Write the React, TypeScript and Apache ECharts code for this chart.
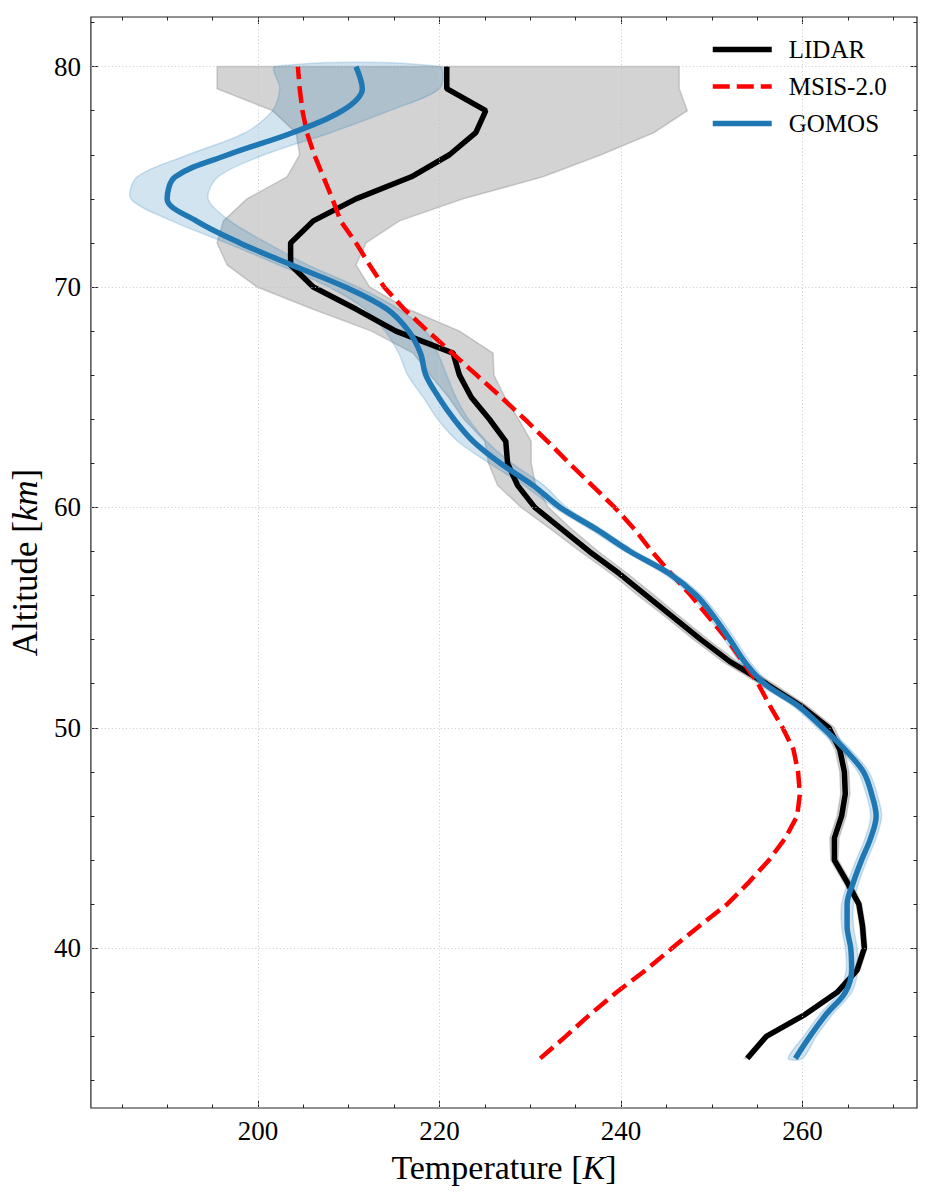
import React, { useEffect, useRef } from "react";
import * as echarts from "echarts";

// Altitude grid of the profiles (km)
const altitudes = [
  35, 36, 37, 38, 39, 40, 41, 42, 43, 44, 45, 46, 47, 48, 49, 50, 51, 52, 53, 54, 55, 56, 57,
  58, 59, 60, 61, 62, 63, 64, 65, 66, 67, 68, 69, 70, 71, 72, 73, 74, 75, 76, 77, 78, 79, 80,
];

// LIDAR temperature profile (K) and its uncertainty envelope
const lidarTemp = [
  253.9, 256.0, 260.3, 263.8, 266.0, 266.8, 266.6, 266.2, 264.9, 263.5, 263.5, 264.3, 264.7,
  264.6, 264.1, 262.9, 259.8, 256.0, 252.0, 248.8, 245.8, 242.8, 239.8, 236.5, 233.5, 230.5,
  228.6, 227.5, 227.3, 225.5, 223.5, 222.2, 221.5, 215.2, 210.8, 206.1, 203.6, 203.6, 206.1,
  210.8, 216.9, 221.1, 224.0, 225.1, 220.8, 220.8,
];
const lidarLow = [
  253.6, 255.7, 260.0, 263.5, 265.7, 266.5, 266.3, 265.9, 264.5, 263.1, 263.0, 263.8, 264.2,
  264.1, 263.6, 262.3, 259.1, 255.2, 251.2, 248.0, 245.0, 241.9, 238.9, 235.5, 232.3, 229.0,
  226.4, 225.4, 225.0, 222.7, 221.0, 219.0, 217.1, 212.5, 206.0, 199.9, 196.6, 195.5, 196.2,
  198.8, 203.2, 204.6, 204.2, 201.6, 195.5, 195.5,
];
const lidarHigh = [
  254.2, 256.3, 260.6, 264.1, 266.3, 267.1, 266.9, 266.5, 265.3, 263.9, 264.0, 264.8, 265.2,
  265.1, 264.6, 263.5, 260.5, 256.8, 252.8, 249.6, 246.6, 243.7, 240.7, 237.5, 234.6, 232.0,
  230.6, 230.1, 230.1, 228.7, 227.2, 226.0, 225.9, 222.2, 216.5, 212.3, 210.8, 211.9, 215.6,
  222.6, 231.4, 237.8, 243.6, 247.3, 246.4, 246.4,
];

// MSIS-2.0 model temperature (K)
const msisTemp = [
  231.1, 233.9, 236.6, 239.5, 242.7, 245.6, 248.6, 251.7, 254.1, 256.3, 258.1, 259.4, 259.7,
  259.5, 259.0, 257.8, 256.4, 255.1, 253.4, 251.7, 249.7, 247.7, 245.5, 243.4, 241.5, 239.3,
  236.8, 234.3, 231.9, 229.4, 226.8, 224.1, 221.4, 218.7, 216.1, 213.9, 212.3, 210.8, 209.1,
  208.2, 207.2, 206.2, 205.4, 204.9, 204.6, 204.4,
];

// GOMOS temperature profile (K) and its uncertainty envelope
const gomosTemp = [
  259.2, 260.8, 262.6, 264.7, 265.4, 265.3, 264.9, 264.9, 265.6, 266.5, 267.5, 268.1, 267.6,
  266.7, 264.7, 262.2, 259.5, 255.8, 253.6, 252.0, 250.3, 248.3, 245.3, 241.0, 237.3, 233.3,
  230.3, 226.7, 223.7, 221.6, 219.9, 218.5, 217.9, 216.6, 214.2, 209.6, 203.7, 198.0, 193.2,
  190.0, 190.9, 196.7, 203.8, 209.3, 211.5, 210.8,
];
const gomosLow = [
  258.4, 260.1, 261.9, 264.0, 264.8, 264.7, 264.3, 264.3, 265.0, 265.9, 266.9, 267.5, 267.0,
  266.1, 264.1, 261.6, 258.9, 255.2, 253.0, 251.4, 249.7, 247.7, 244.7, 240.4, 236.6, 232.6,
  229.3, 225.5, 222.0, 219.8, 218.2, 216.5, 215.5, 214.0, 211.8, 207.8, 202.3, 196.5, 190.5,
  186.0, 186.7, 192.3, 198.6, 201.6, 202.4, 201.9,
];
const gomosHigh = [
  260.0, 261.5, 263.3, 265.4, 266.1, 266.0, 265.6, 265.6, 266.2, 267.1, 268.1, 268.7, 268.2,
  267.3, 265.3, 262.8, 260.1, 256.4, 254.2, 252.6, 250.9, 248.9, 245.9, 241.6, 237.9, 234.0,
  231.5, 228.0, 225.2, 223.2, 221.8, 220.8, 219.8, 218.5, 215.5, 211.0, 205.5, 201.0, 196.9,
  194.5, 195.6, 200.7, 208.0, 214.5, 220.0, 220.0,
];

// Tick positions
const xMajorTicks = [200, 220, 240, 260];
const xMinorTicks = [185, 190, 195, 205, 210, 215, 225, 230, 235, 245, 250, 255, 265, 270];
const yMajorTicks = [40, 50, 60, 70, 80];
const yMinorTicks = [34, 36, 38, 42, 44, 46, 48, 52, 54, 56, 58, 62, 64, 66, 68, 72, 74, 76, 78, 82];

const X_MIN = 181.6;
const X_MAX = 272.6;
const Y_MIN = 32.75;
const Y_MAX = 82.25;

const FONT = "'Liberation Serif', 'DejaVu Serif', serif";
const TICK_COLOR = "#222";

const LIDAR_COLOR = "#000000";
const MSIS_COLOR = "#ff0000";
const GOMOS_COLOR = "#1f77b4";
const MSIS_DASH = [17, 7];

function pairs(temps: number[]) {
  return temps.map((t, i) => [t, altitudes[i]]);
}

function xAxisDef(position: string, values: number[], length: number, labels: boolean, extra: any = {}) {
  return {
    type: "value",
    position,
    min: X_MIN,
    max: X_MAX,
    axisLine: { show: false },
    splitLine: { show: false },
    axisTick: {
      show: true,
      inside: true,
      length,
      customValues: values,
      lineStyle: { color: TICK_COLOR, width: 1 },
    },
    axisLabel: labels
      ? {
          show: true,
          customValues: values,
          margin: 9,
          fontFamily: FONT,
          fontSize: 27,
          color: "#000",
          formatter: (v: number) => String(v),
        }
      : { show: false },
    ...extra,
  };
}

function yAxisDef(position: string, values: number[], length: number, labels: boolean, extra: any = {}) {
  return {
    type: "value",
    position,
    min: Y_MIN,
    max: Y_MAX,
    axisLine: { show: false },
    splitLine: { show: false },
    axisTick: {
      show: true,
      inside: true,
      length,
      customValues: values,
      lineStyle: { color: TICK_COLOR, width: 1 },
    },
    axisLabel: labels
      ? {
          show: true,
          customValues: values,
          margin: 10,
          fontFamily: FONT,
          fontSize: 27,
          color: "#000",
          formatter: (v: number) => String(v),
        }
      : { show: false },
    ...extra,
  };
}

function bandSeries(name: string, low: number[], high: number[], fill: string, stroke: string, smooth: number) {
  return {
    name,
    type: "custom",
    xAxisIndex: 0,
    yAxisIndex: 0,
    z: 1,
    silent: true,
    data: altitudes.map((a, i) => [low[i], high[i], a]),
    encode: { x: [0, 1], y: 2 },
    renderItem: (params: any, api: any) => {
      if (params.dataIndex !== 0) return null;
      const pts: number[][] = [];
      for (let i = 0; i < altitudes.length; i++) pts.push(api.coord([low[i], altitudes[i]]));
      for (let i = altitudes.length - 1; i >= 0; i--) pts.push(api.coord([high[i], altitudes[i]]));
      return {
        type: "polygon",
        shape: { points: pts, smooth },
        style: { fill, stroke, lineWidth: 1.5 },
      };
    },
  };
}

export default function App() {
  const ref = useRef<HTMLDivElement>(null);

  useEffect(() => {
    if (!ref.current) return;
    const chart = echarts.init(ref.current, null, { renderer: "svg" });

    const option: any = {
      animation: false,
      backgroundColor: "#fff",
      grid: {
        left: 90,
        right: 18,
        top: 17,
        bottom: 93,
        show: true,
        borderColor: "#222",
        borderWidth: 1.2,
        backgroundColor: "transparent",
      },
      legend: {
        data: [
          { name: "LIDAR", lineStyle: { width: 5.5, color: LIDAR_COLOR } },
          { name: "MSIS-2.0", lineStyle: { width: 4.5, color: MSIS_COLOR, type: MSIS_DASH } },
          { name: "GOMOS", lineStyle: { width: 5.5, color: GOMOS_COLOR } },
        ],
        orient: "vertical",
        left: 710,
        top: 37,
        padding: 0,
        itemWidth: 59,
        itemHeight: 14,
        itemGap: 12,
        selectedMode: false,
        itemStyle: { opacity: 0 },
        textStyle: { fontFamily: FONT, fontSize: 25, color: "#000", padding: [0, 0, 0, 12] },
      },
      xAxis: [
        xAxisDef("bottom", xMajorTicks, 7, true, {
          name: "Temperature [{k|K}]",
          nameLocation: "middle",
          nameGap: 42,
          nameTextStyle: {
            fontFamily: FONT,
            fontSize: 34,
            color: "#000",
            rich: { k: { fontFamily: FONT, fontSize: 34, fontStyle: "italic", color: "#000" } },
          },
        }),
        xAxisDef("bottom", xMinorTicks, 3.5, false),
        xAxisDef("top", xMajorTicks, 7, false),
        xAxisDef("top", xMinorTicks, 3.5, false),
      ],
      yAxis: [
        yAxisDef("left", yMajorTicks, 7, true, {
          name: "Altitude [{k|km}]",
          nameLocation: "middle",
          nameRotate: 90,
          nameGap: 46,
          nameTextStyle: {
            fontFamily: FONT,
            fontSize: 35,
            color: "#000",
            rich: { k: { fontFamily: FONT, fontSize: 35, fontStyle: "italic", color: "#000" } },
          },
        }),
        yAxisDef("left", yMinorTicks, 3.5, false),
        yAxisDef("right", yMajorTicks, 7, false),
        yAxisDef("right", yMinorTicks, 3.5, false),
      ],
      series: [
        {
          name: "gridlines",
          type: "line",
          xAxisIndex: 0,
          yAxisIndex: 0,
          data: [],
          z: 0,
          silent: true,
          markLine: {
            silent: true,
            symbol: ["none", "none"],
            label: { show: false },
            emphasis: { disabled: true },
            lineStyle: { color: "#c4c4c4", type: [1, 2.5], width: 0.9 },
            data: [
              ...xMajorTicks.map((v) => ({ xAxis: v })),
              ...yMajorTicks.map((v) => ({ yAxis: v })),
            ],
          },
        },
        bandSeries("LIDAR band", lidarLow, lidarHigh, "rgba(128,128,128,0.35)", "rgba(128,128,128,0.35)", 0),
        bandSeries("GOMOS band", gomosLow, gomosHigh, "rgba(31,119,180,0.2)", "rgba(31,119,180,0.2)", 0.3),
        {
          name: "LIDAR",
          type: "line",
          xAxisIndex: 0,
          yAxisIndex: 0,
          z: 3,
          data: pairs(lidarTemp),
          symbol: "none",
          color: LIDAR_COLOR,
          lineStyle: { color: LIDAR_COLOR, width: 5.5 },
        },
        {
          name: "MSIS-2.0",
          type: "line",
          xAxisIndex: 0,
          yAxisIndex: 0,
          z: 4,
          data: pairs(msisTemp),
          symbol: "none",
          color: MSIS_COLOR,
          lineStyle: { color: MSIS_COLOR, width: 4.5, type: MSIS_DASH },
        },
        {
          name: "GOMOS",
          type: "line",
          xAxisIndex: 0,
          yAxisIndex: 0,
          z: 5,
          data: pairs(gomosTemp),
          symbol: "none",
          smooth: 0.35,
          color: GOMOS_COLOR,
          lineStyle: { color: GOMOS_COLOR, width: 5.5 },
        },
      ],
    };

    chart.setOption(option);
    return () => chart.dispose();
  }, []);

  return (
    <div
      ref={ref}
      style={{ position: "absolute", left: 0, top: 0, width: 935, height: 1201, background: "#fff" }}
    />
  );
}
